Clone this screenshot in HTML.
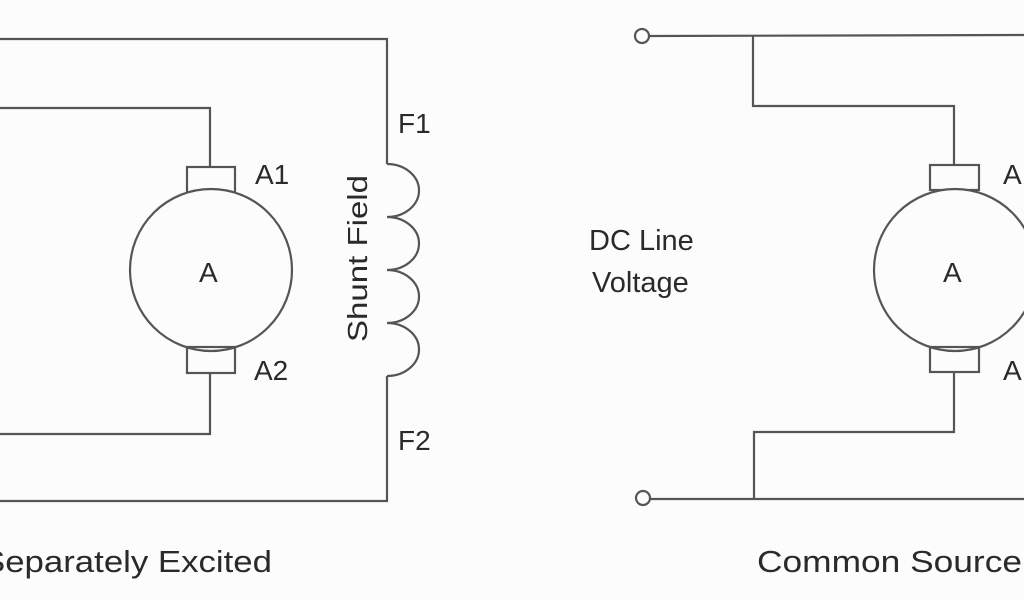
<!DOCTYPE html>
<html><head><meta charset="utf-8"><style>
html,body{margin:0;padding:0;background:#fcfcfc;overflow:hidden}
svg{display:block}
text{font-family:"Liberation Sans",sans-serif;fill:#2a2a2a}
</style></head><body>
<svg width="1024" height="600" viewBox="0 0 1024 600" xmlns="http://www.w3.org/2000/svg">
<g fill="none" stroke="#555" stroke-width="2.2">
<polyline points="0,39 387,39 387,164"/>
<path d="M387,164 a32,26.5 0 0 1 0,53 a32,26.5 0 0 1 0,53 a32,26.5 0 0 1 0,53 a32,26.5 0 0 1 0,53"/>
<polyline points="387,376 387,501 0,501"/>
<polyline points="0,108 210,108 210,167"/>
<rect x="187" y="167" width="48" height="26"/>
<circle cx="211" cy="270" r="81" fill="#fcfcfc"/>
<rect x="187" y="347" width="48" height="26"/>
<polyline points="210,373 210,434 0,434"/>
<circle cx="642" cy="36" r="7"/>
<line x1="649" y1="36" x2="1024" y2="35"/>
<polyline points="753,36 753,106 954,106 954,165"/>
<rect x="930" y="165" width="49" height="25"/>
<circle cx="955" cy="270" r="81" fill="#fcfcfc"/>
<rect x="930" y="347" width="49" height="25"/>
<polyline points="954,372 954,432 754,432 754,499"/>
<circle cx="643" cy="498" r="7"/>
<line x1="650" y1="499" x2="1024" y2="499"/>
</g>
<g font-size="28">
<text x="255" y="184">A1</text>
<text x="254" y="380">A2</text>
<text x="398" y="133">F1</text>
<text x="398" y="450">F2</text>
<text x="199" y="282">A</text>
<text x="943" y="282">A</text>
<text x="1003" y="184">A</text>
<text x="1003" y="380">A</text>
<text transform="translate(367,342) rotate(-90)" textLength="167" lengthAdjust="spacingAndGlyphs">Shunt Field</text>
<text x="589" y="250" font-size="29">DC Line</text>
<text x="592" y="292" font-size="29">Voltage</text>
</g>
<g font-size="31">
<text x="-18" y="572" textLength="290" lengthAdjust="spacingAndGlyphs">Separately Excited</text>
<text x="757" y="572" textLength="265" lengthAdjust="spacingAndGlyphs">Common Source</text>
</g>
</svg>
</body></html>
